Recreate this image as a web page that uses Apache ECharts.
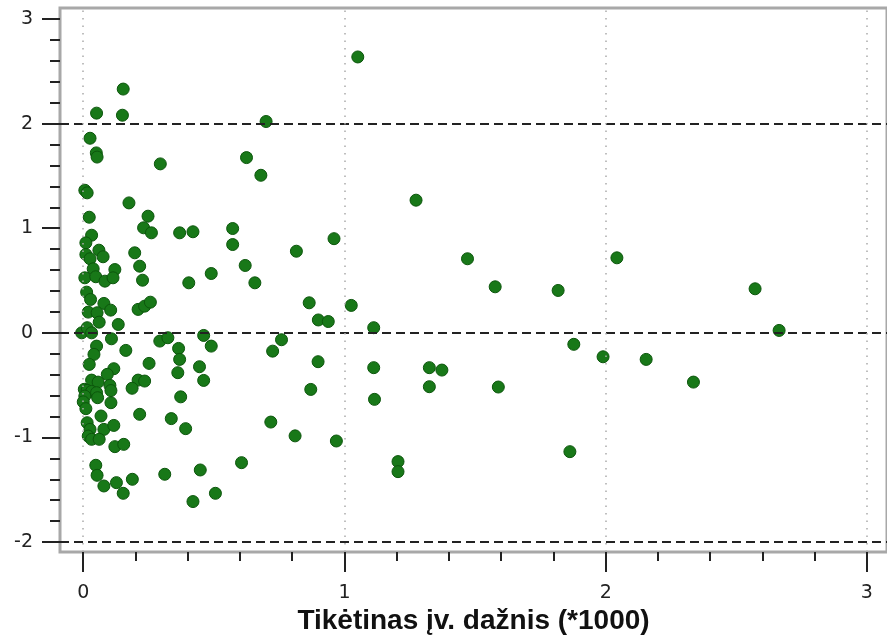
<!DOCTYPE html>
<html>
<head>
<meta charset="utf-8">
<script src="https://cdn.jsdelivr.net/npm/echarts@6/dist/echarts.min.js"></script>
<style>
  html, body { margin: 0; padding: 0; background: #fff; }
  #chart { width: 887px; height: 640px; }
</style>
</head>
<body>
<div id="chart"></div>
<script>
// expected frequency (*1000)
var xVals = [1.051, 0.153, 0.051, 0.150, 0.70, 0.026, 0.050, 0.053, 0.295, 0.625,
  0.68, 0.006, 0.015, 0.175, 0.248, 0.023, 0.231, 0.261, 0.369, 0.42,
  0.572, 0.572, 0.816, 0.032, 0.010, 0.010, 0.026, 0.06, 0.076, 0.197,
  0.216, 0.227, 0.038, 0.121, 0.006, 0.048, 0.083, 0.114, 0.404, 0.49,
  0.62, 0.657, 0.013, 0.028, 0.079, 0.105, 0.019, 0.053, 0.061, -0.006,
  0.015, 0.032, 0.134, 0.21, 0.235, 0.257, 0.108, 0.051, 0.041, 0.023,
  0.163, 0.293, 0.324, 0.461, 0.49, 0.365, 0.369, 0.362, 0.252, 0.445,
  0.461, 0.759, 0.725, 0.117, 0.092, 0.032, 0.057, 0.102, 0.21, 0.235,
  0.187, 0.004, 0.015, 0.032, 0.051, 0.106, 0.373, 0.006, 0.055, 0.0,
  0.01, 0.106, 0.216, 0.068, 0.337, 0.392, 0.015, 0.026, 0.079, 0.117,
  0.019, 0.032, 0.061, 0.121, 0.155, 0.718, 0.811, 0.606, 0.048, 0.053,
  0.079, 0.127, 0.153, 0.188, 0.312, 0.448, 0.506, 0.42, 1.274, 0.96,
  1.471, 1.577, 1.818, 0.865, 1.026, 0.90, 0.938, 1.112, 1.878, 0.899,
  1.112, 1.325, 1.373, 1.325, 1.589, 0.871, 1.115, 0.969, 1.205, 1.205,
  1.863, 1.99, 2.155, 2.336, 2.664, 2.043, 2.572];
// residuals
var yVals = [2.637, 2.33, 2.10, 2.08, 2.02, 1.86, 1.72, 1.68, 1.615, 1.675,
  1.506, 1.363, 1.338, 1.242, 1.115, 1.105, 1.004, 0.956, 0.956, 0.966,
  0.997, 0.844, 0.78, 0.933, 0.86, 0.749, 0.708, 0.79, 0.727, 0.765,
  0.637, 0.503, 0.612, 0.605, 0.526, 0.536, 0.494, 0.526, 0.478, 0.567,
  0.644, 0.478, 0.389, 0.319, 0.281, 0.217, 0.198, 0.192, 0.102, 0.0,
  0.049, 0.0, 0.08, 0.224, 0.255, 0.293, -0.057, -0.127, -0.206, -0.302,
  -0.168, -0.079, -0.047, -0.025, -0.127, -0.149, -0.254, -0.381, -0.292, -0.324,
  -0.455, -0.066, -0.175, -0.343, -0.397, -0.452, -0.471, -0.502, -0.452, -0.461,
  -0.53, -0.54, -0.55, -0.56, -0.572, -0.552, -0.612, -0.605, -0.62, -0.66,
  -0.725, -0.668, -0.779, -0.795, -0.82, -0.916, -0.859, -0.923, -0.923, -0.885,
  -0.987, -1.018, -1.018, -1.088, -1.066, -0.853, -0.985, -1.241, -1.266, -1.362,
  -1.464, -1.432, -1.534, -1.40, -1.352, -1.311, -1.534, -1.613, 1.268, 0.90,
  0.708, 0.44, 0.405, 0.287, 0.262, 0.123, 0.108, 0.049, -0.11, -0.276,
  -0.333, -0.333, -0.356, -0.515, -0.518, -0.541, -0.636, -1.034, -1.231, -1.327,
  -1.136, -0.229, -0.254, -0.471, 0.023, 0.717, 0.421];

var xMajorTicks = [0, 1, 2, 3];
var xMinorTicks = [0.2, 0.4, 0.6, 0.8, 1.2, 1.4, 1.6, 1.8, 2.2, 2.4, 2.6, 2.8];
var yMajorTicks = [-2, -1, 0, 1, 2, 3];
var yMinorTicks = [-1.8, -1.6, -1.4, -1.2, -0.8, -0.6, -0.4, -0.2, 0.2, 0.4, 0.6, 0.8,
  1.2, 1.4, 1.6, 1.8, 2.2, 2.4, 2.6, 2.8];
var dashedY = [-2, 0, 2];
var dottedX = [0, 1, 2, 3];

var xTitle = 'Tikėtinas įv. dažnis (*1000)';

var points = xVals.map(function (x, i) { return [x, yVals[i]]; });

var xMin = -0.089, xMax = 3.077;
var yMin = -2.096, yMax = 3.105;

var labelFont = { fontFamily: 'DejaVu Sans', fontSize: 19, color: '#222' };
var tickLine = { color: '#222', width: 2 };

var refLines = [];
dashedY.forEach(function (v) {
    refLines.push({ yAxis: v, lineStyle: { type: [9, 5], color: '#222', width: 2 } });
});
dottedX.forEach(function (v) {
    refLines.push({ xAxis: v, lineStyle: { type: [1.5, 6], color: '#aaa', width: 1.5 } });
});

var myChart = echarts.init(document.getElementById('chart'));

option = {
    animation: false,
    grid: {
        left: 60,
        top: 8,
        right: -3,
        bottom: 87,
        show: true,
        borderColor: '#a8a8a8',
        borderWidth: 3,
        backgroundColor: '#fff'
    },
    xAxis: [
        {
            type: 'value',
            min: xMin,
            max: xMax,
            position: 'bottom',
            axisLine: { show: false, onZero: false },
            axisTick: { customValues: xMajorTicks, length: 20, lineStyle: tickLine },
            axisLabel: Object.assign({ customValues: xMajorTicks, margin: 31 }, labelFont),
            splitLine: { show: false },
            name: xTitle,
            nameLocation: 'middle',
            nameGap: 52,
            nameTextStyle: { fontFamily: 'Liberation Sans', fontSize: 28, fontWeight: 'bold', color: '#111' }
        },
        {
            type: 'value',
            min: xMin,
            max: xMax,
            position: 'bottom',
            axisLine: { show: false, onZero: false },
            axisTick: { customValues: xMinorTicks, length: 9, lineStyle: tickLine },
            axisLabel: { show: false },
            splitLine: { show: false }
        }
    ],
    yAxis: [
        {
            type: 'value',
            min: yMin,
            max: yMax,
            position: 'left',
            axisLine: { show: false, onZero: false },
            axisTick: { customValues: yMajorTicks, length: 18, lineStyle: tickLine },
            axisLabel: Object.assign({ customValues: yMajorTicks, margin: 27 }, labelFont),
            splitLine: { show: false }
        },
        {
            type: 'value',
            min: yMin,
            max: yMax,
            position: 'left',
            axisLine: { show: false, onZero: false },
            axisTick: { customValues: yMinorTicks, length: 10, lineStyle: tickLine },
            axisLabel: { show: false },
            splitLine: { show: false }
        }
    ],
    series: [
        {
            // reference lines only
            type: 'scatter',
            data: [],
            z: 1,
            markLine: {
                silent: true,
                symbol: 'none',
                label: { show: false },
                data: refLines
            }
        },
        {
            type: 'scatter',
            z: 3,
            symbolSize: 12,
            itemStyle: { color: '#187818', borderColor: '#0c560c', borderWidth: 1, opacity: 1 },
            data: points
        }
    ]
};
myChart.setOption(option);
</script>
</body>
</html>
